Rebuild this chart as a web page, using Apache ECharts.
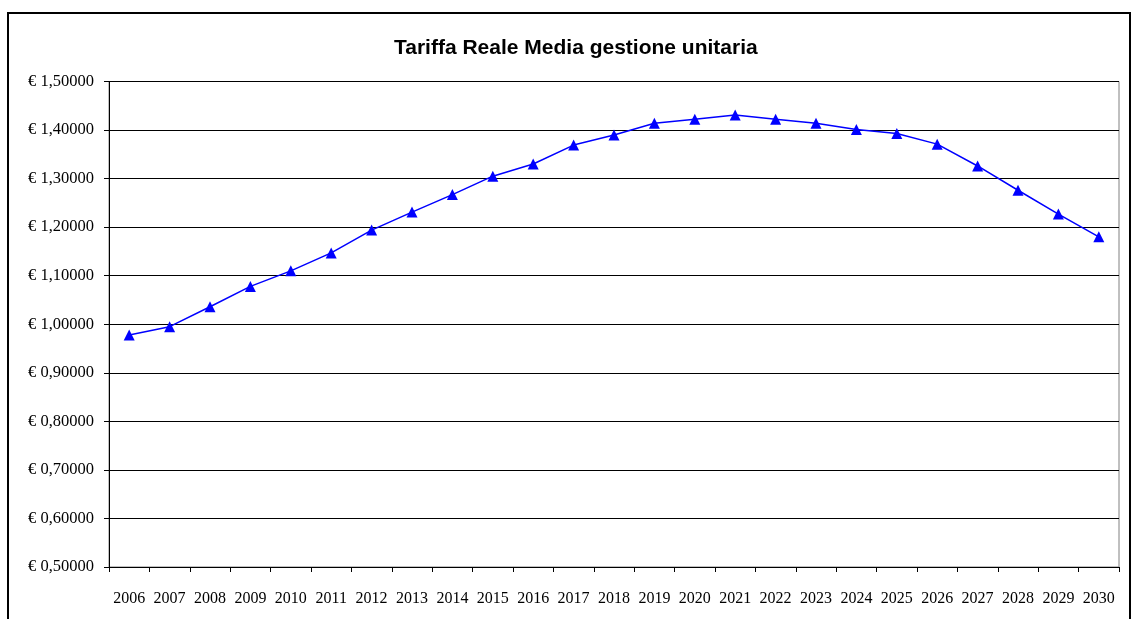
<!DOCTYPE html>
<html><head><meta charset="utf-8">
<script src="https://cdn.jsdelivr.net/npm/echarts@6/dist/echarts.min.js"></script>
<style>html,body{margin:0;padding:0;background:#fff}#c{width:1133px;height:619px}</style>
</head><body><div id="c"></div>
<script>
const titleText = 'Tariffa Reale Media gestione unitaria';
const years = ['2006','2007','2008','2009','2010','2011','2012','2013','2014','2015','2016','2017','2018','2019','2020','2021','2022','2023','2024','2025','2026','2027','2028','2029','2030'];
const tariffa = [0.978,0.995,1.036,1.078,1.110,1.147,1.194,1.231,1.267,1.305,1.330,1.369,1.390,1.414,1.422,1.431,1.422,1.414,1.401,1.393,1.371,1.326,1.276,1.227,1.180];
const yMin = 0.5, yMax = 1.5, yStep = 0.1;

const chart = echarts.init(document.getElementById('c'));
chart.setOption({
  animation: false,
  title: {
    text: titleText, left: 389, top: 33,
    textStyle: {fontFamily: 'Liberation Sans, Arial', fontWeight: 'bold', fontSize: 21, color: '#000'}
  },
  graphic: [{
    type: 'rect', shape: {x: 8, y: 13, width: 1122, height: 640},
    style: {fill: 'none', stroke: '#000', lineWidth: 2}, silent: true, z: 100
  }],
  grid: {left: 109, right: 14, top: 81.5, bottom: 52, show: true, borderColor: '#808080', borderWidth: 1},
  xAxis: {
    type: 'category', data: years, boundaryGap: true,
    axisLine: {lineStyle: {color: '#000', width: 1}},
    axisTick: {show: true, alignWithLabel: false, length: 5, lineStyle: {color: '#000'}},
    axisLabel: {interval: 0, margin: 24, fontFamily: 'Liberation Serif, Times New Roman', fontSize: 16, color: '#000'},
    splitLine: {show: false}
  },
  yAxis: {
    type: 'value', min: yMin, max: yMax, interval: yStep,
    axisLine: {show: true, lineStyle: {color: '#000', width: 1}},
    axisTick: {show: true, length: 5, lineStyle: {color: '#000'}},
    axisLabel: {
      margin: 15, fontFamily: 'Liberation Serif, Times New Roman', fontSize: 16.5, color: '#000',
      formatter: v => '€ ' + v.toFixed(5).replace('.', ',')
    },
    splitLine: {show: true, lineStyle: {color: '#000', width: 1}}
  },
  series: [{
    type: 'line', data: tariffa,
    symbol: 'triangle', symbolSize: 11,
    lineStyle: {color: '#0000ff', width: 1.5},
    itemStyle: {color: '#0000ff'}
  }]
});
</script></body></html>
